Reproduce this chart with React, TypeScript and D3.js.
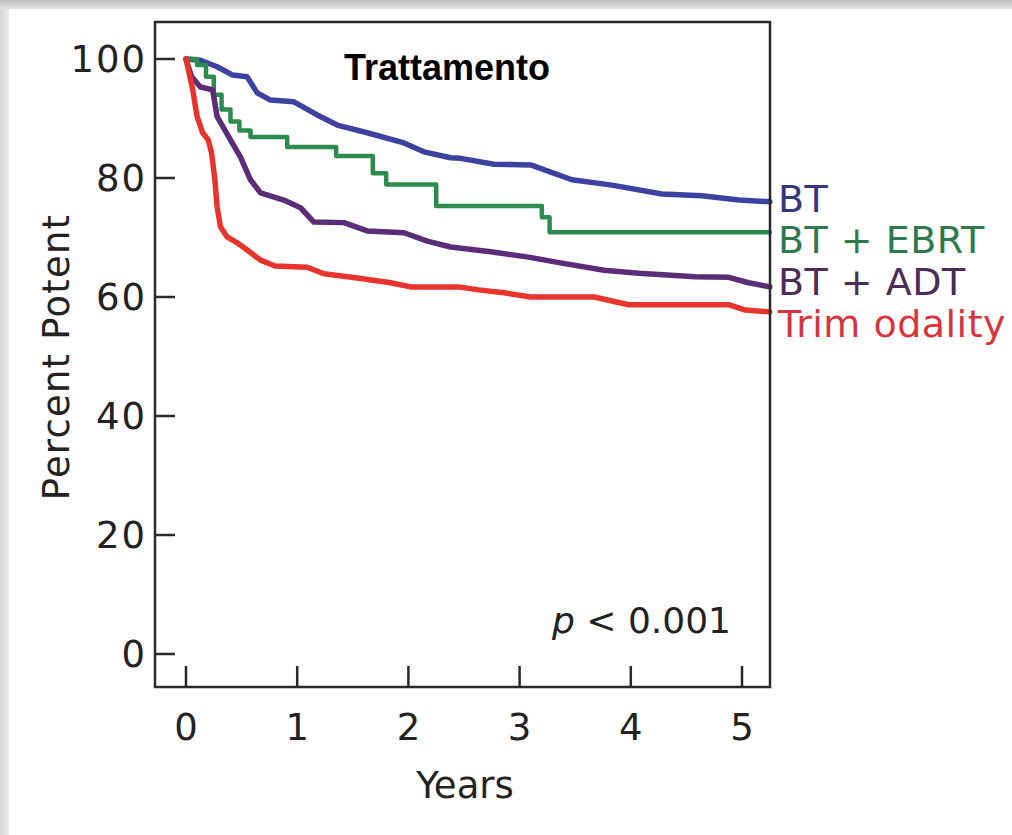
import React, { useEffect, useRef } from "react";
import * as d3 from "d3";

// Kaplan-Meier style curves (years, percent potent)
const btYears = [0, 0.13, 0.28, 0.42, 0.55, 0.64, 0.76, 0.97, 1.18, 1.36, 1.63, 1.96, 2.14, 2.38, 2.47, 2.77, 3.1, 3.47, 3.83, 4.28, 4.64, 4.97, 5.25];
const btPct = [100, 99.8, 98.7, 97.3, 97.0, 94.3, 93.1, 92.8, 90.6, 88.9, 87.6, 85.9, 84.4, 83.4, 83.3, 82.3, 82.2, 79.7, 78.8, 77.3, 77.0, 76.3, 76.0];

const ebrtYears = [0, 0.1, 0.18, 0.25, 0.32, 0.4, 0.48, 0.58, 0.91, 1.35, 1.68, 1.8, 2.25, 3.2, 3.27, 5.25];
const ebrtPct = [100, 99, 97, 94, 91.5, 89.5, 88, 86.9, 85.2, 83.7, 80.8, 78.9, 75.3, 73.4, 70.9, 70.9];

const adtYears = [0, 0.05, 0.13, 0.24, 0.28, 0.4, 0.49, 0.58, 0.67, 0.88, 1.03, 1.15, 1.42, 1.63, 1.96, 2.17, 2.38, 2.74, 3.08, 3.38, 3.76, 4.07, 4.58, 4.88, 5.06, 5.25];
const adtPct = [100, 97, 95.3, 94.8, 90.3, 86.4, 83.5, 79.7, 77.5, 76.3, 75.0, 72.6, 72.5, 71.1, 70.8, 69.4, 68.4, 67.6, 66.7, 65.7, 64.5, 64.0, 63.4, 63.3, 62.4, 61.7];

const trimYears = [0, 0.06, 0.1, 0.15, 0.2, 0.23, 0.26, 0.28, 0.31, 0.37, 0.46, 0.55, 0.67, 0.8, 1.09, 1.24, 1.54, 1.84, 2.02, 2.45, 2.63, 2.86, 3.1, 3.67, 3.98, 4.88, 5.03, 5.25];
const trimPct = [100, 94.9, 90.3, 87.6, 86.4, 84.2, 79.7, 75.1, 71.8, 70.1, 69.1, 67.9, 66.2, 65.2, 65.0, 63.9, 63.2, 62.4, 61.7, 61.7, 61.2, 60.7, 60.0, 60.0, 58.7, 58.7, 57.8, 57.5];

const seriesNames = ["BT", "BT + EBRT", "BT + ADT", "Trim odality"];
const seriesColors = ["#3d42a0", "#2e8b4f", "#5b2c77", "#e8342d"];
const labelColors = ["#33387e", "#2e7a4e", "#4a2d58", "#d8343e"];

const xTicks = [0, 1, 2, 3, 4, 5];
const yTicks = [0, 20, 40, 60, 80, 100];

const font = "'DejaVu Sans', sans-serif";

export default function App() {
  const svgRef = useRef<SVGSVGElement>(null);

  useEffect(() => {
    const svg = d3.select(svgRef.current);
    svg.selectAll("*").remove();

    const width = 1012;
    const height = 835;
    const box = { left: 155, right: 770, top: 22, bottom: 687 };

    const x = d3.scaleLinear().domain([0, 5]).range([186, 742]);
    const y = d3.scaleLinear().domain([0, 100]).range([654, 59]);

    // page background with soft grey shadow on top and left
    const defs = svg.append("defs");
    const gTop = defs.append("linearGradient").attr("id", "shadow-top").attr("x1", 0).attr("x2", 0).attr("y1", 0).attr("y2", 1);
    gTop.append("stop").attr("offset", "0%").attr("stop-color", "#bcbcbc");
    gTop.append("stop").attr("offset", "100%").attr("stop-color", "#e4e4e4");
    const gLeft = defs.append("linearGradient").attr("id", "shadow-left").attr("x1", 0).attr("x2", 1).attr("y1", 0).attr("y2", 0);
    gLeft.append("stop").attr("offset", "0%").attr("stop-color", "#d4d4d4");
    gLeft.append("stop").attr("offset", "100%").attr("stop-color", "#ececec");

    svg.append("rect").attr("width", width).attr("height", height).attr("fill", "#ffffff");
    svg.append("rect").attr("x", 0).attr("y", 0).attr("width", width).attr("height", 9).attr("fill", "url(#shadow-top)");
    svg.append("rect").attr("x", 0).attr("y", 9).attr("width", 9).attr("height", height - 9).attr("fill", "url(#shadow-left)");

    // curves
    const series = [
      { years: btYears, pct: btPct, curve: d3.curveLinear, w: 5.5 },
      { years: ebrtYears, pct: ebrtPct, curve: d3.curveStepAfter, w: 4.5 },
      { years: adtYears, pct: adtPct, curve: d3.curveLinear, w: 5.5 },
      { years: trimYears, pct: trimPct, curve: d3.curveLinear, w: 5.5 },
    ];
    series.forEach((s, i) => {
      const pts: [number, number][] = s.years.map((yr, j) => [yr, s.pct[j]]);
      const line = d3
        .line<[number, number]>()
        .x((d) => x(d[0]))
        .y((d) => y(d[1]))
        .curve(s.curve);
      svg
        .append("path")
        .attr("d", line(pts))
        .attr("fill", "none")
        .attr("stroke", seriesColors[i])
        .attr("stroke-width", s.w)
        .attr("stroke-linejoin", "round")
        .attr("stroke-linecap", "round");
    });

    // frame
    svg
      .append("rect")
      .attr("x", box.left)
      .attr("y", box.top)
      .attr("width", box.right - box.left)
      .attr("height", box.bottom - box.top)
      .attr("fill", "none")
      .attr("stroke", "#2a2a2a")
      .attr("stroke-width", 2.5);

    // y ticks + labels
    yTicks.forEach((t) => {
      svg
        .append("line")
        .attr("x1", box.left)
        .attr("x2", box.left + 20)
        .attr("y1", y(t))
        .attr("y2", y(t))
        .attr("stroke", "#2a2a2a")
        .attr("stroke-width", 2.5);
      svg
        .append("text")
        .attr("x", box.left - 8)
        .attr("y", y(t))
        .attr("dy", "0.36em")
        .attr("text-anchor", "end")
        .style("font-family", font)
        .style("font-size", "37px")
        .style("letter-spacing", "2px")
        .style("fill", "#222")
        .text(t);
    });

    // x ticks + labels
    xTicks.forEach((t) => {
      svg
        .append("line")
        .attr("x1", x(t))
        .attr("x2", x(t))
        .attr("y1", box.bottom)
        .attr("y2", box.bottom - 21)
        .attr("stroke", "#2a2a2a")
        .attr("stroke-width", 2.5);
      svg
        .append("text")
        .attr("x", x(t))
        .attr("y", 740)
        .attr("text-anchor", "middle")
        .style("font-family", font)
        .style("font-size", "37px")
        .style("fill", "#222")
        .text(t);
    });

    // axis titles
    svg
      .append("text")
      .attr("x", 465)
      .attr("y", 798)
      .attr("text-anchor", "middle")
      .style("font-family", font)
      .style("font-size", "37px")
      .style("fill", "#222")
      .text("Years");
    svg
      .append("text")
      .attr("transform", "translate(69,357) rotate(-90)")
      .attr("text-anchor", "middle")
      .style("font-family", font)
      .style("font-size", "37px")
      .style("letter-spacing", "1.2px")
      .style("fill", "#222")
      .text("Percent Potent");

    // title
    svg
      .append("text")
      .attr("x", 447)
      .attr("y", 80)
      .attr("text-anchor", "middle")
      .style("font-family", "'Liberation Sans', Arial, sans-serif")
      .style("font-weight", "bold")
      .style("font-size", "36px")
      .style("fill", "#000")
      .text("Trattamento");

    // p-value
    const p = svg
      .append("text")
      .attr("x", 731)
      .attr("y", 633)
      .attr("text-anchor", "end")
      .style("font-family", font)
      .style("font-size", "36px")
      .style("fill", "#222");
    p.append("tspan").style("font-style", "italic").text("p");
    p.append("tspan").text(" < 0.001");

    // end-of-curve labels
    const labelY = [212, 253, 295, 337];
    seriesNames.forEach((name, i) => {
      svg
        .append("text")
        .attr("x", 778)
        .attr("y", labelY[i])
        .style("font-family", font)
        .style("font-size", "38px")
        .style("letter-spacing", "0.5px")
        .style("fill", labelColors[i])
        .text(name);
    });
  }, []);

  return (
    <svg
      ref={svgRef}
      width={1012}
      height={835}
      style={{ position: "absolute", left: 0, top: 0 }}
    ></svg>
  );
}
